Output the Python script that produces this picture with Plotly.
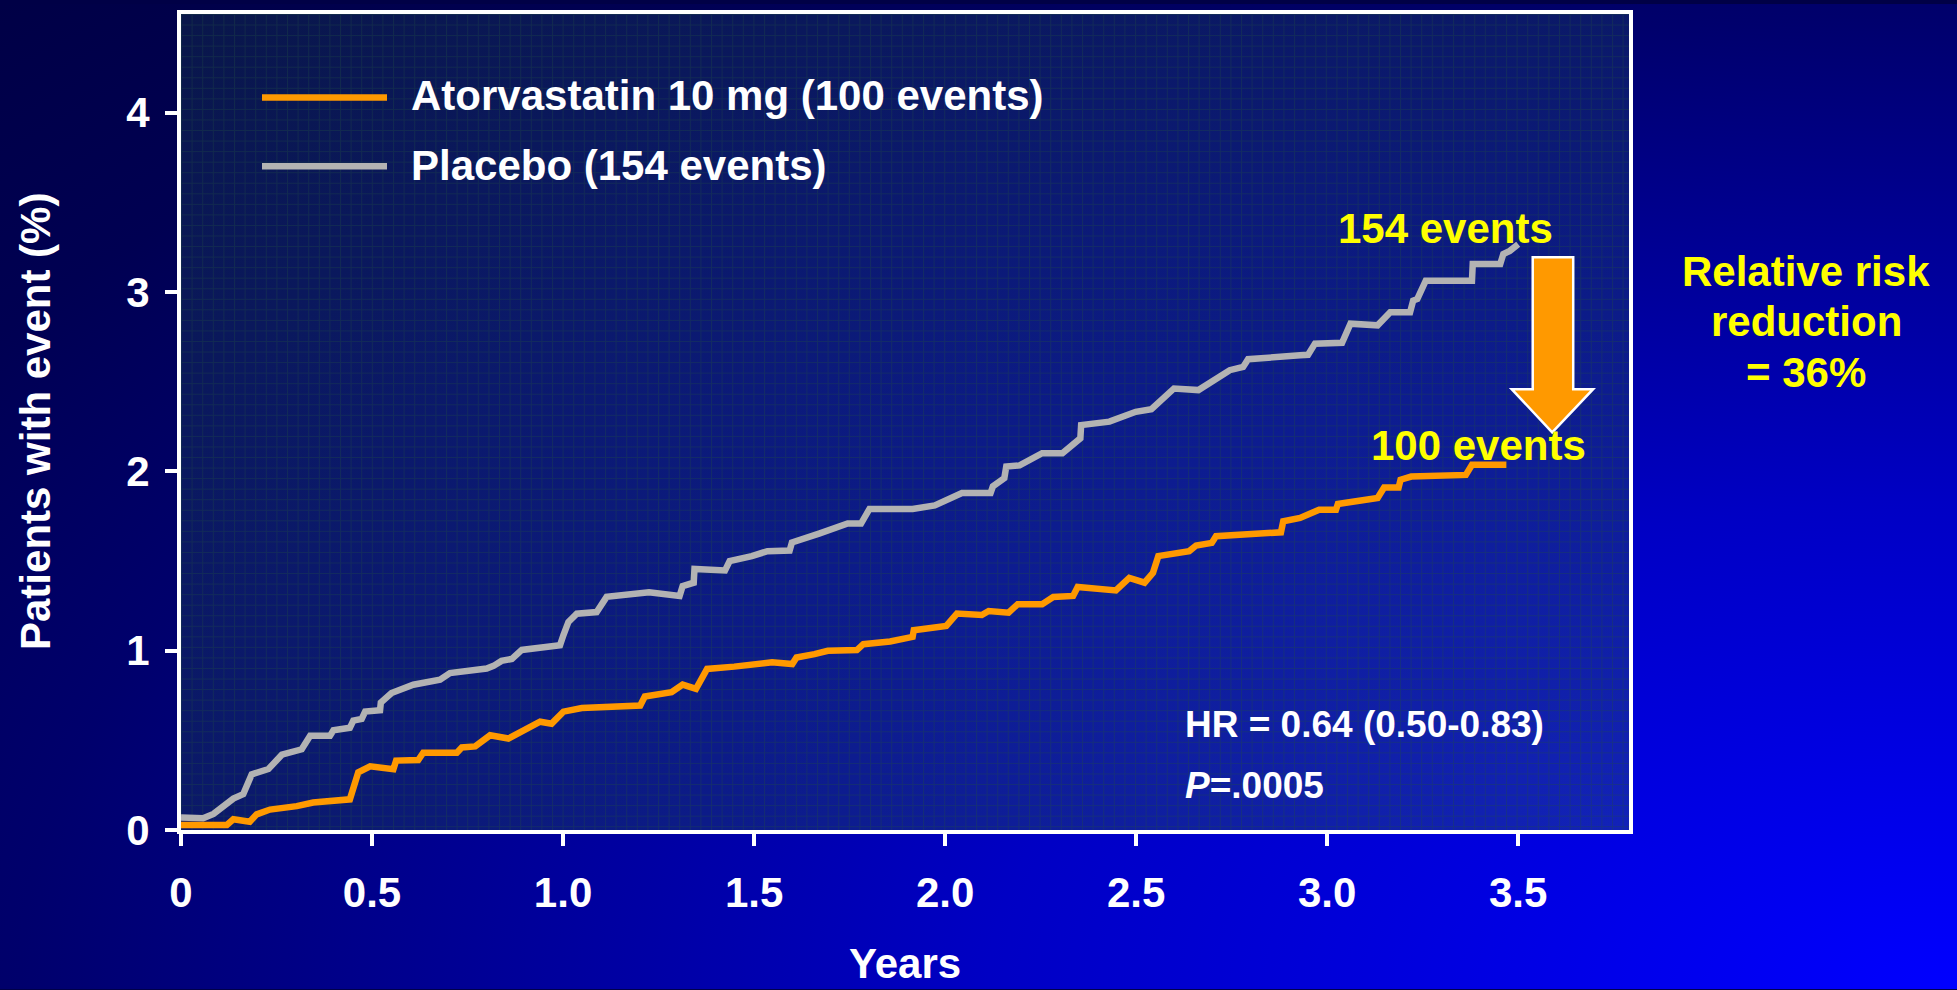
import base64
import plotly.graph_objects as go

# ---------------- data ----------------
series_names = ["Atorvastatin 10 mg (100 events)", "Placebo (154 events)"]

years_placebo = [0.0, 0.058, 0.085, 0.137, 0.163, 0.185, 0.229, 0.264, 0.316, 0.338, 0.39, 0.399,
                 0.442, 0.451, 0.473, 0.482, 0.521, 0.523, 0.551, 0.608, 0.678, 0.704, 0.80, 0.818,
                 0.839, 0.866, 0.892, 0.992, 1.001, 1.014, 1.036, 1.088, 1.114, 1.225, 1.305, 1.313,
                 1.342, 1.344, 1.424, 1.436, 1.494, 1.535, 1.593, 1.599, 1.67, 1.728, 1.745, 1.78,
                 1.802, 1.915, 1.973, 2.044, 2.119, 2.125, 2.155, 2.16, 2.195, 2.254, 2.307, 2.354,
                 2.356, 2.43, 2.499, 2.54, 2.599, 2.663, 2.745, 2.78, 2.793, 2.929, 2.95, 2.968,
                 3.039, 3.061, 3.132, 3.165, 3.217, 3.225, 3.236, 3.258, 3.379, 3.381, 3.453, 3.461,
                 3.478, 3.5]
pct_placebo = [0.07, 0.065, 0.09, 0.175, 0.20, 0.31, 0.34, 0.42, 0.45, 0.525, 0.525, 0.556,
               0.57, 0.61, 0.62, 0.66, 0.668, 0.71, 0.764, 0.81, 0.838, 0.875, 0.90, 0.915,
               0.943, 0.954, 1.004, 1.03, 1.087, 1.16, 1.206, 1.215, 1.30, 1.325, 1.305, 1.36,
               1.379, 1.456, 1.447, 1.499, 1.527, 1.555, 1.558, 1.603, 1.653, 1.694, 1.709, 1.709,
               1.79, 1.79, 1.81, 1.879, 1.879, 1.916, 1.962, 2.027, 2.033, 2.101, 2.101, 2.184,
               2.258, 2.277, 2.332, 2.347, 2.462, 2.453, 2.564, 2.582, 2.625, 2.647, 2.65, 2.712,
               2.717, 2.823, 2.814, 2.887, 2.887, 2.952, 2.961, 3.063, 3.063, 3.156, 3.156, 3.211,
               3.229, 3.266]

years_atorva = [0.0, 0.12, 0.137, 0.18, 0.198, 0.233, 0.303, 0.346, 0.442, 0.453, 0.464, 0.495,
                0.556, 0.563, 0.621, 0.634, 0.722, 0.735, 0.77, 0.809, 0.857, 0.94, 0.97, 1.001,
                1.049, 1.202, 1.214, 1.284, 1.313, 1.348, 1.377, 1.448, 1.547, 1.6, 1.611, 1.658,
                1.693, 1.769, 1.786, 1.856, 1.915, 1.918, 2.003, 2.031, 2.096, 2.114, 2.166, 2.19,
                2.254, 2.283, 2.335, 2.347, 2.447, 2.482, 2.522, 2.544, 2.558, 2.639, 2.657, 2.698,
                2.709, 2.879, 2.885, 2.929, 2.979, 3.023, 3.028, 3.132, 3.149, 3.187, 3.192, 3.22,
                3.363, 3.379, 3.469]
pct_atorva = [0.028, 0.028, 0.06, 0.046, 0.087, 0.114, 0.133, 0.153, 0.171, 0.258, 0.322, 0.355,
              0.339, 0.387, 0.39, 0.431, 0.431, 0.46, 0.466, 0.528, 0.51, 0.604, 0.593, 0.66,
              0.68, 0.694, 0.744, 0.768, 0.811, 0.787, 0.898, 0.911, 0.935, 0.925, 0.962, 0.981,
              0.999, 1.003, 1.036, 1.051, 1.077, 1.114, 1.138, 1.207, 1.199, 1.221, 1.212, 1.259,
              1.259, 1.299, 1.305, 1.355, 1.336, 1.406, 1.379, 1.434, 1.527, 1.555, 1.586, 1.601,
              1.638, 1.66, 1.721, 1.74, 1.786, 1.786, 1.818, 1.851, 1.91, 1.91, 1.953, 1.971,
              1.98, 2.036, 2.036]

x_tick_vals = [0, 0.5, 1.0, 1.5, 2.0, 2.5, 3.0, 3.5]
x_tick_text = ["0", "0.5", "1.0", "1.5", "2.0", "2.5", "3.0", "3.5"]
y_tick_vals = [0, 1, 2, 3, 4]
y_tick_text = ["0", "1", "2", "3", "4"]

# ---------------- layout geometry / styles ----------------
W, H = 1957, 990
L, R, T, B = 181, 328, 10, 160
PW, PH = W - L - R, H - T - B

def px(x):
    return (x - L) / PW

def py(y):
    return (H - B - y) / PH

FONT = "Arial, 'Liberation Sans', sans-serif"
ORANGE = "#FF9900"
GRAY = "#B3B3B3"
YELLOW = "#FFFF00"

def b64svg(s):
    return "data:image/svg+xml;base64," + base64.b64encode(s.encode()).decode()

bg_svg = f'''<svg xmlns="http://www.w3.org/2000/svg" width="{W}" height="{H}" viewBox="0 0 {W} {H}" preserveAspectRatio="none">
<defs><radialGradient id="g" cx="1" cy="1" r="1.414" fx="1" fy="1" gradientUnits="objectBoundingBox">
<stop offset="0" stop-color="#0000FF"/>
<stop offset="0.35" stop-color="#0000C4"/>
<stop offset="0.7" stop-color="#00006C"/>
<stop offset="0.85" stop-color="#000052"/>
<stop offset="1" stop-color="#000046"/>
</radialGradient></defs>
<rect x="0" y="0" width="{W}" height="{H}" fill="url(#g)"/></svg>'''

plot_svg = f'''<svg xmlns="http://www.w3.org/2000/svg" width="{PW}" height="{PH}" viewBox="0 0 {PW} {PH}" preserveAspectRatio="none">
<defs><radialGradient id="g2" cx="1" cy="1" r="1.414" fx="1" fy="1" gradientUnits="objectBoundingBox">
<stop offset="0" stop-color="#1222B8"/>
<stop offset="0.45" stop-color="#0C1B88"/>
<stop offset="0.8" stop-color="#0A185C"/>
<stop offset="1" stop-color="#09164A"/>
</radialGradient>
<pattern id="p" x="0" y="0" width="10.6" height="10.6" patternUnits="userSpaceOnUse">
<path d="M0.5 0 V10.6 M0 0.5 H10.6" stroke="#1F4A44" stroke-width="1" stroke-opacity="0.35" fill="none"/>
</pattern></defs>
<rect x="0" y="0" width="{PW}" height="{PH}" fill="url(#g2)"/>
<rect x="0" y="0" width="{PW}" height="{PH}" fill="url(#p)"/></svg>'''

fig = go.Figure()
fig.add_trace(go.Scatter(x=years_placebo, y=pct_placebo, mode="lines", name=series_names[1],
                         line=dict(color=GRAY, width=6.5), showlegend=False, hoverinfo="skip"))
fig.add_trace(go.Scatter(x=years_atorva, y=pct_atorva, mode="lines", name=series_names[0],
                         line=dict(color=ORANGE, width=6.5), showlegend=False, hoverinfo="skip"))

axis_common = dict(
    showgrid=False, zeroline=False, showline=True, linewidth=4, linecolor="white", mirror=True,
    ticks="outside", ticklen=12, tickwidth=4, tickcolor="white",
    tickfont=dict(family=FONT, size=42, color="white", weight="bold"),
)
fig.update_xaxes(range=[0, 3.79], tickvals=x_tick_vals, ticktext=x_tick_text,
                 ticklabelstandoff=11, **axis_common)
fig.update_yaxes(range=[0, 4.55], tickvals=y_tick_vals, ticktext=y_tick_text,
                 ticklabelstandoff=7, **axis_common)

def ann(text, x, y, size=42, color="white", xanchor="center", yanchor="middle", **kw):
    return dict(text=text, x=x, y=y, xref="paper", yref="paper", showarrow=False,
                xanchor=xanchor, yanchor=yanchor,
                font=dict(family=FONT, size=size, color=color, weight="bold"), **kw)

annotations = [
    ann(series_names[0], px(409), py(92), xanchor="left"),
    ann(series_names[1], px(409), py(162), xanchor="left"),
    ann("154 events", px(1445), py(226), color=YELLOW),
    ann("100 events", px(1478), py(444), color=YELLOW),
    ann("HR = 0.64 (0.50-0.83)", px(1183), py(724), size=37, xanchor="left"),
    ann("<i>P</i>=.0005", px(1183), py(785), size=37, xanchor="left"),
    ann("Relative risk", px(1806), py(269), color=YELLOW),
    ann("reduction", px(1806), py(319), color=YELLOW),
    ann("= 36%", px(1806), py(370), color=YELLOW),
    ann("Patients with event (%)", px(35), 0.5, textangle=-90),
    ann("Years", 0.5, py(964)),
]

shapes = [
    dict(type="line", xref="paper", yref="paper", x0=px(262), x1=px(387), y0=py(94), y1=py(94),
         line=dict(color=ORANGE, width=6.5)),
    dict(type="line", xref="paper", yref="paper", x0=px(262), x1=px(387), y0=py(163), y1=py(163),
         line=dict(color=GRAY, width=6.5)),
    # block arrow (data coordinates)
    dict(type="path", xref="x", yref="y",
         path="M 3.538 3.193 L 3.644 3.193 L 3.644 2.458 L 3.696 2.458 L 3.589 2.217 "
              "L 3.483 2.458 L 3.538 2.458 Z",
         fillcolor=ORANGE, line=dict(color="white", width=2.5), layer="above"),
]

images = [
    dict(source=b64svg(bg_svg), xref="paper", yref="paper", x=-L / PW, y=1 + T / PH,
         sizex=W / PW, sizey=H / PH, xanchor="left", yanchor="top", sizing="stretch", layer="below"),
    dict(source=b64svg(plot_svg), xref="paper", yref="paper", x=0, y=1, sizex=1, sizey=1,
         xanchor="left", yanchor="top", sizing="stretch", layer="below"),
]

fig.update_layout(
    width=W, height=H, autosize=False,
    margin=dict(l=L, r=R, t=T, b=B, pad=0),
    paper_bgcolor="#000046", plot_bgcolor="rgba(0,0,0,0)",
    annotations=annotations, shapes=shapes, images=images,
    showlegend=False,
    font=dict(family=FONT, color="white"),
)

fig.write_html("out.html")
